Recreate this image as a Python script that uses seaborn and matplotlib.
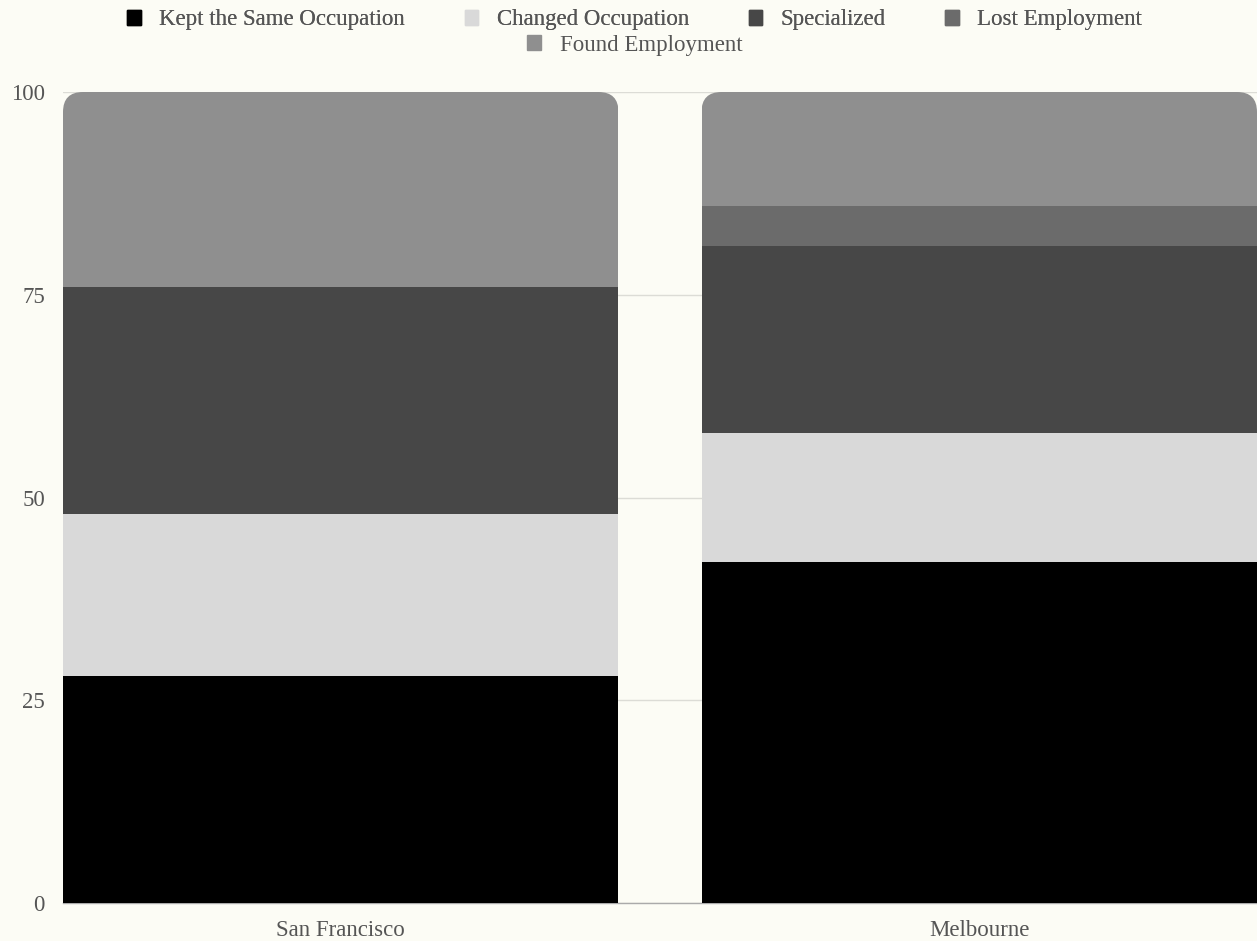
import matplotlib
matplotlib.use("Agg")
import matplotlib.pyplot as plt
from matplotlib.patches import FancyBboxPatch, Patch
import seaborn as sns
import pandas as pd
import numpy as np

cities = ["San Francisco", "Melbourne"]
series_names = ["Kept the Same Occupation", "Changed Occupation", "Specialized",
                "Lost Employment", "Found Employment"]
kept = [28, 42]
changed = [20, 16]
specialized = [28, 23]
lost = [0, 5]
found = [24, 14]
colors = ["#000000", "#d9d9d9", "#474747", "#6b6b6b", "#8f8f8f"]
yticks = [0, 25, 50, 75, 100]

series_values = [kept, changed, specialized, lost, found]

bg = "#fcfcf5"
txt = "#555555"
sns.set_theme(style="white")
plt.rcParams["font.family"] = ["Liberation Serif", "DejaVu Serif"]

fig = plt.figure(figsize=(12.57, 9.41), dpi=100, facecolor=bg)
ax = fig.add_axes([63 / 1257, 38 / 941, (1257 - 63) / 1257, (903 - 92) / 941])
ax.set_facecolor(bg)

width = 0.87
bottom = np.zeros(len(cities))
for name, vals, col in zip(series_names, series_values, colors):
    df = pd.DataFrame({"city": cities, "value": vals})
    sns.barplot(data=df, x="city", y="value", order=cities, color=col,
                width=width, bottom=bottom.copy(), ax=ax, saturation=1,
                linewidth=0, edgecolor=col, errorbar=None, zorder=3)
    bottom = bottom + np.array(vals)

ax.set_xlim(-width / 2, len(cities) - 1 + width / 2)
ax.set_ylim(0, 100)
ax.set_yticks(yticks)
ax.set_yticklabels([str(v) for v in yticks])
ax.set_xlabel("")
ax.set_ylabel("")
ax.grid(axis="y", color="#dcdcd6", linewidth=1, zorder=0)
ax.grid(axis="x", visible=False)
ax.set_axisbelow(True)
for s in ["top", "right", "left"]:
    ax.spines[s].set_visible(False)
ax.spines["bottom"].set_color("#aaaaaa")
ax.spines["bottom"].set_linewidth(1)
ax.tick_params(axis="both", length=0, labelsize=16.5, labelcolor=txt)
ax.tick_params(axis="y", pad=13)
ax.tick_params(axis="x", pad=12)

# rounded top corners via clip paths
fig.canvas.draw()
px_x = ax.transData.transform((1, 0))[0] - ax.transData.transform((0, 0))[0]
px_y = ax.transData.transform((0, 1))[1] - ax.transData.transform((0, 0))[1]
r_px = 20
aspect = px_x / px_y
clips = []
for i in range(len(cities)):
    cp = FancyBboxPatch((i - width / 2, -60), width, 160,
                        boxstyle=f"round,pad=0,rounding_size={r_px / px_x}",
                        mutation_aspect=aspect, transform=ax.transData,
                        facecolor="none", edgecolor="none")
    clips.append(cp)
for p in ax.patches:
    cx = p.get_x() + p.get_width() / 2
    idx = int(round(cx))
    p.set_clip_path(clips[idx])

handles = [Patch(facecolor=c, edgecolor=c) for c in colors]
leg1 = fig.legend(handles[:4], series_names[:4], loc="center", bbox_to_anchor=(0.505, 1 - 20 / 941),
                  ncol=4, frameon=False, fontsize=16.5, handlelength=0.6, handleheight=0.6,
                  handletextpad=0.8, columnspacing=2.6, labelcolor=txt)
leg2 = fig.legend(handles[4:], series_names[4:], loc="center", bbox_to_anchor=(0.505, 1 - 45 / 941),
                  ncol=1, frameon=False, fontsize=16.5, handlelength=0.6, handleheight=0.6,
                  handletextpad=0.8, labelcolor=txt)
fig.add_artist(leg1)

fig.savefig("out.png", dpi=100, facecolor=bg)
